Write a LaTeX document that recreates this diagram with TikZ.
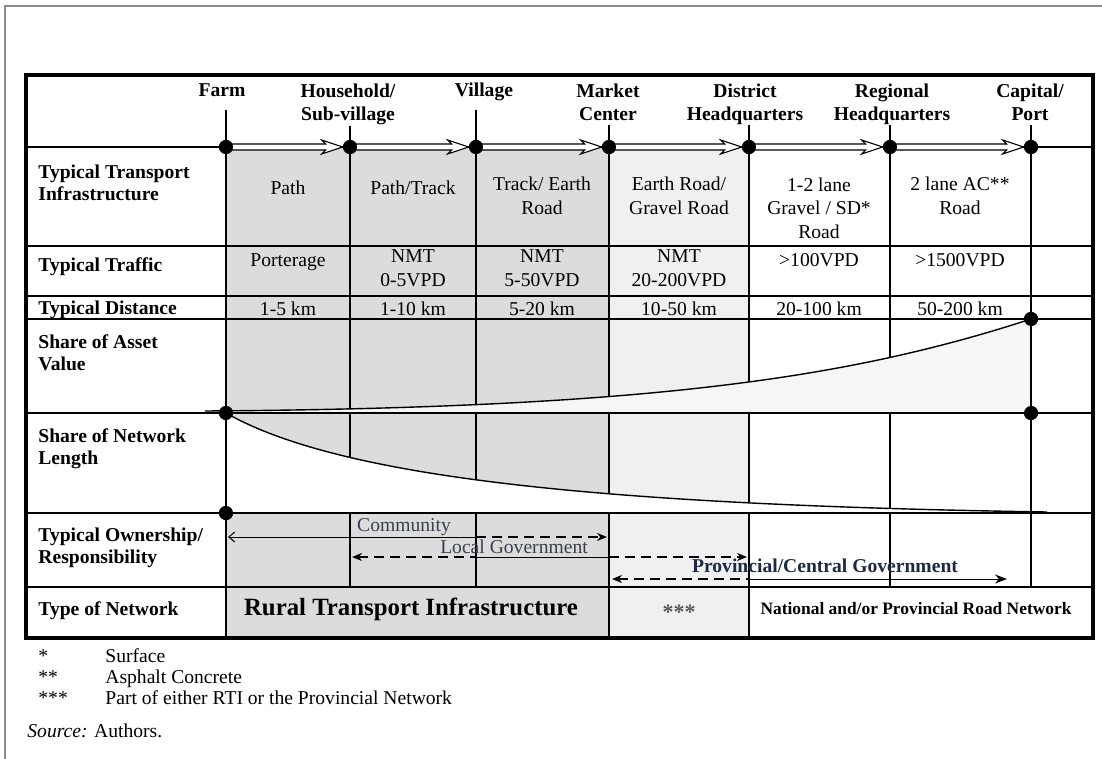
\documentclass[tikz,border=0pt]{standalone}
\usepackage{fontspec}
\setmainfont{Liberation Serif}
\usetikzlibrary{arrows.meta,calc}

\definecolor{ruralgray}{HTML}{DCDCDC}
\definecolor{marketgray}{HTML}{F0F0F0}
\definecolor{stipplegray}{HTML}{F6F6F6}
\definecolor{framegray}{HTML}{8C8C8C}
\definecolor{govblue}{HTML}{1E2A44}
\definecolor{owntext}{HTML}{3A3F4F}

\newcommand{\hdrfont}{\fontsize{9.8}{11.5}\selectfont}
\newcommand{\labfont}{\fontsize{9.8}{11}\selectfont}
\newcommand{\tabfont}{\fontsize{9.8}{12}\selectfont}

\tikzset{
	gridline/.style={line width=0.75pt, black},
	dot/.style={circle, fill=black, inner sep=0pt, minimum size=7pt},
	place/.style={anchor=north, align=center, inner sep=0pt, outer sep=1pt,
		font=\hdrfont\bfseries, execute at begin node=\strut},
	rowlabel/.style={anchor=north west, align=left, inner sep=0pt,
		font=\labfont\bfseries, execute at begin node=\strut},
	cell/.style={anchor=north, align=center, inner sep=0pt,
		font=\tabfont, execute at begin node=\strut},
	roadarrow/.style={fill=white, draw=black, line width=0.55pt, line join=miter},
	ownsolid/.style={line width=0.5pt},
	owndash/.style={line width=1.1pt, dash pattern=on 5pt off 3pt},
	note/.style={anchor=base west, inner sep=0pt, font=\tabfont}
}

\begin{document}
\begin{tikzpicture}[x=0.5pt, y=-0.5pt]
	\useasboundingbox (0,0) rectangle (1102,759);
	% Rahmen
	\draw[framegray, line width=1pt] (5,759) -- (5,6) -- (1102,6);

	% Spaltenflaechen
	\fill[ruralgray] (226,147) rectangle (609,638);
	\fill[marketgray] (609,147) rectangle (749,638);

	% Orte oben
	\node[place] (lbl-farm) at (222,78) {Farm};
	\node[place] (lbl-household) at (348,82) {Household/\\Sub-village};
	\node[place] (lbl-village) at (484,78) {Village};
	\node[place] (lbl-market) at (608,82) {Market\\Center};
	\node[place] (lbl-district) at (745,82) {District\\Headquarters};
	\node[place] (lbl-regional) at (892,82) {Regional\\Headquarters};
	\node[place] (lbl-capital) at (1030,82) {Capital/\\Port};

	\node[dot] (dot-farm) at (226,147) {};
	\node[dot] (dot-household) at (350,147) {};
	\node[dot] (dot-village) at (476,147) {};
	\node[dot] (dot-market) at (609,147) {};
	\node[dot] (dot-district) at (749,147) {};
	\node[dot] (dot-regional) at (890,147) {};
	\node[dot] (dot-capital) at (1031,147) {};

	% senkrechte Linien
	\foreach \p/\t/\b in {farm/110/638, household/126/587, village/110/587,
		market/125/638, district/125/638, regional/125/587, capital/125/587} {
		\draw[gridline] (dot-\p |- 0,\t) -- (dot-\p);
		\draw[gridline] (dot-\p) -- (dot-\p |- 0,\b);
	}

	% Anteile
	\coordinate (asset-start) at (205,411);
	\coordinate (net-end) at (1047,512);
	\node[dot] (asset-top) at (1031,319) {};
	\node[dot] (asset-farm) at (226,413) {};
	\node[dot] (asset-cap) at (1031,413) {};
	\node[dot] (net-farm) at (226,513) {};
	\fill[stipplegray] (asset-start) .. controls (650,408) and (850,378) ..
		(asset-top.center) -- (asset-cap.center) -- (205,413) -- cycle;
	\fill[white] (asset-farm.center) .. controls (340,478) and (600,505) ..
		(net-end) -- (net-farm.center) -- cycle;

	% waagerechte Linien
	\foreach \y in {147,246,296,319,513,587}
		\draw[gridline] (26,\y) -- (1093,\y);
	\draw[line width=1pt] (26,413) -- (1093,413);
	\draw[gridline] (dot-farm) -- (dot-farm |- 0,638);
	\draw[gridline] (dot-capital) -- (dot-capital |- 0,587);
	\draw[line width=0.7pt] (asset-start) .. controls (650,408) and (850,378) .. (asset-top.center);
	\draw[line width=0.7pt] (asset-farm.center) .. controls (340,478) and (600,505) .. (net-end);

	% Weg von Ort zu Ort
	\foreach \a/\b in {farm/household, household/village, village/market,
		market/district, district/regional, regional/capital}
		\filldraw[roadarrow] ($(dot-\a.center)+(0,-3)$) -- ($(dot-\b.west)+(-17,-3)$)
			-- ($(dot-\b.west)+(-21,-7)$) -- (dot-\b.west) -- ($(dot-\b.west)+(-21,7)$)
			-- ($(dot-\b.west)+(-17,3)$) -- ($(dot-\a.center)+(0,3)$) -- cycle;

	\foreach \d in {dot-farm, dot-household, dot-village, dot-market, dot-district,
		dot-regional, dot-capital, asset-top, asset-farm, asset-cap, net-farm}
		\fill (\d) circle (3.5pt);

	% Zeilenbeschriftungen
	\node[rowlabel] (row-infra) at (38,165) {Typical Transport\\Infrastructure};
	\node[rowlabel] (row-traffic) at (38,256) {Typical Traffic};
	\node[rowlabel] (row-distance) at (38,299) {Typical Distance};
	\node[rowlabel] (row-asset) at (38,334) {Share of Asset\\Value};
	\node[rowlabel] (row-length) at (38,428) {Share of Network\\Length};
	\node[rowlabel] (row-owner) at (38,527) {Typical Ownership/\\Responsibility};
	\node[rowlabel] (row-type) at (38,600) {Type of Network};

	% Infrastruktur
	\node[cell] (infra-path) at (288,177) {Path};
	\node[cell] (infra-track) at (413,177) {Path/Track};
	\node[cell] (infra-earth) at (542,177) {Track/ Earth\\Road};
	\node[cell] (infra-gravel) at (679,177) {Earth Road/\\Gravel Road};
	\node[cell] (infra-lane) at (819,177) {1-2 lane\\Gravel / SD*\\Road};
	\node[cell] (infra-ac) at (960,177) {2 lane AC**\\Road};
	% Verkehr
	\node[cell] (traffic-porter) at (288,249) {Porterage};
	\node[cell] (traffic-path) at (413,249) {NMT\\0-5VPD};
	\node[cell] (traffic-track) at (542,249) {NMT\\5-50VPD};
	\node[cell] (traffic-earth) at (679,249) {NMT\\20-200VPD};
	\node[cell] (traffic-lane) at (819,249) {>100VPD};
	\node[cell] (traffic-ac) at (960,249) {>1500VPD};
	% Entfernung
	\node[cell] (dist-path) at (288,298) {1-5 km};
	\node[cell] (dist-track) at (413,298) {1-10 km};
	\node[cell] (dist-earth) at (542,298) {5-20 km};
	\node[cell] (dist-gravel) at (679,298) {10-50 km};
	\node[cell] (dist-lane) at (819,298) {20-100 km};
	\node[cell] (dist-ac) at (960,298) {50-200 km};

	% Zustaendigkeit
	\coordinate (com-left) at (228,537);
	\coordinate (com-mid) at (476,537);
	\coordinate (com-right) at (607,537);
	\coordinate (loc-left) at (352,557);
	\coordinate (loc-mida) at (476,557);
	\coordinate (loc-midb) at (609,557);
	\coordinate (loc-right) at (747,557);
	\coordinate (prov-left) at (612,579);
	\coordinate (prov-mid) at (749,579);
	\coordinate (prov-right) at (1007,579);
	\draw[ownsolid, {Straight Barb[length=3pt, width=5pt]}-] (com-left) -- (com-mid);
	\draw[owndash, -{Stealth[length=5pt, width=4pt]}] (com-mid) -- (com-right);
	\draw[owndash, {Stealth[length=5pt, width=4pt]}-] (loc-left) -- (loc-mida);
	\draw[ownsolid] (loc-mida) -- (loc-midb);
	\draw[owndash, -{Stealth[length=5pt, width=4pt]}] (loc-midb) -- (loc-right);
	\draw[owndash, {Stealth[length=5pt, width=4pt]}-] (prov-left) -- (prov-mid);
	\draw[ownsolid, -{Stealth[length=6pt, width=4.5pt]}] (prov-mid) -- (prov-right);
	\node[font=\tabfont, text=owntext, inner sep=0pt] (own-com) at (404,527) {Community};
	\node[font=\tabfont, text=owntext, inner sep=0pt] (own-loc) at (514,547) {Local Government};
	\node[font=\tabfont\bfseries, text=govblue, inner sep=0pt] (own-prov) at (825,566)
		{Provincial/Central Government};

	% Netzart
	\node[font=\fontsize{12.4}{14}\selectfont\bfseries, inner sep=0pt] (type-rti) at (411,609)
		{Rural Transport Infrastructure};
	\node[font=\fontsize{11}{13}\selectfont\bfseries, text=black!65, inner sep=0pt] (type-mix) at (679,612) {***};
	\node[font=\fontsize{8.7}{10}\selectfont\bfseries, inner sep=0pt] (type-nat) at (916,609)
		{National and/or Provincial Road Network};

	% Rand der Tabelle
	\draw[line width=2pt] (26,75) rectangle (1093,638);

	% Fussnoten
	\node[note] (fn-one) at (38,662) {*};
	\node[note] (fn-one-txt) at (105,662) {Surface};
	\node[note] (fn-two) at (38,683) {**};
	\node[note] (fn-two-txt) at (105,683) {Asphalt Concrete};
	\node[note] (fn-three) at (38,704) {***};
	\node[note] (fn-three-txt) at (105,704) {Part of either RTI or the Provincial Network};
	\node[note] (source) at (27,737) {\itshape Source:\upshape{} Authors.};
\end{tikzpicture}
\end{document}
